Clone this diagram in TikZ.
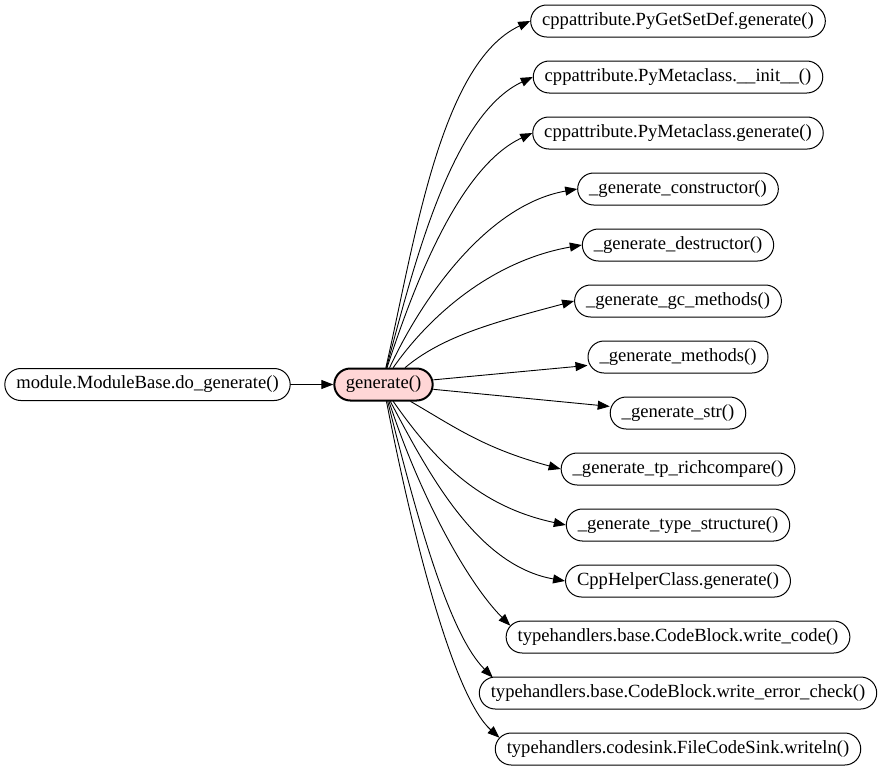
\documentclass[tikz,border=0pt]{standalone}
\usepackage{fontspec}
\setmainfont{Liberation Serif}
\usetikzlibrary{arrows.meta}
\definecolor{curfill}{RGB}{255,214,214}

\begin{document}
\begin{tikzpicture}[
			x=1pt, y=-1pt,
			every node/.style={font=\fontsize{18.6}{22}\selectfont},
			fn/.style={draw, line width=1pt, rounded corners=16pt, minimum height=32pt, inner xsep=11.5pt, inner ysep=0pt},
			cur/.style={fn, fill=curfill, line width=2pt},
			call/.style={-{Triangle[length=12pt, width=9pt]}, line width=0.9pt},
			line cap=round,
			line join=round
			]
			\useasboundingbox (0,0) rectangle (883,771);
			
			% Caller and current function
			\node[fn] (caller) at (147.5,384.5) {module.ModuleBase.do\_generate()};
			\node[cur] (gen) at (383.5,384.5) {generate()};
			\draw[call] (caller) -- (gen);
			
			% Callees
			\foreach \i/\txt in {
				1/{cppattribute.PyGetSetDef.generate()},
				2/{cppattribute.PyMetaclass.\_\_init\_\_()},
				3/{cppattribute.PyMetaclass.generate()},
				4/{\_generate\_constructor()},
				5/{\_generate\_destructor()},
				6/{\_generate\_gc\_methods()},
				7/{\_generate\_methods()},
				8/{\_generate\_str()},
				9/{\_generate\_tp\_richcompare()},
				10/{\_generate\_type\_structure()},
				11/{CppHelperClass.generate()},
				12/{typehandlers.base.CodeBlock.write\_code()},
				13/{typehandlers.base.CodeBlock.write\_error\_check()},
				14/{typehandlers.codesink.FileCodeSink.writeln()}}
			\node[fn] (c\i) at (678,{21+56*(\i-1)}) {\txt};
			
			% Calls upwards
			\draw[call] (gen.82) to[out=77, in=205, out distance=125pt, in distance=100pt] (c1.west);
			\draw[call] (gen.80) to[out=75, in=205, out distance=105pt, in distance=90pt] (c2.west);
			\draw[call] (gen.78) to[out=72, in=205, out distance=90pt, in distance=80pt] (c3.west);
			\draw[call] (gen.70) to[out=65, in=190, out distance=80pt, in distance=90pt] (c4.west);
			\draw[call] (gen.60) to[out=55, in=190, out distance=65pt, in distance=90pt] (c5.west);
			\draw[call] (gen.38) to[out=40, in=195, out distance=50pt, in distance=80pt] (c6.west);
			
			% Straight calls
			\draw[call] (gen) -- (c7);
			\draw[call] (gen) -- (c8);
			
			% Calls downwards
			\draw[call] (gen.-32) to[out=-30, in=165, out distance=50pt, in distance=80pt] (c9.west);
			\draw[call] (gen.-60) to[out=-55, in=168, out distance=70pt, in distance=90pt] (c10.west);
			\draw[call] (gen.-68) to[out=-62, in=170, out distance=80pt, in distance=90pt] (c11.west);
			\draw[call] (gen.-72) to[out=-72, in=135, out distance=100pt, in distance=60pt] ([xshift=4.7pt, yshift=11.3pt]c12.west);
			\draw[call] (gen.-76) to[out=-76, in=135, out distance=130pt, in distance=60pt] ([xshift=14pt, yshift=15.5pt]c13.west);
			\draw[call] (gen.-80) to[out=-79, in=138, out distance=150pt, in distance=60pt] ([xshift=4.7pt, yshift=11.3pt]c14.west);
		\end{tikzpicture}
\end{document}
